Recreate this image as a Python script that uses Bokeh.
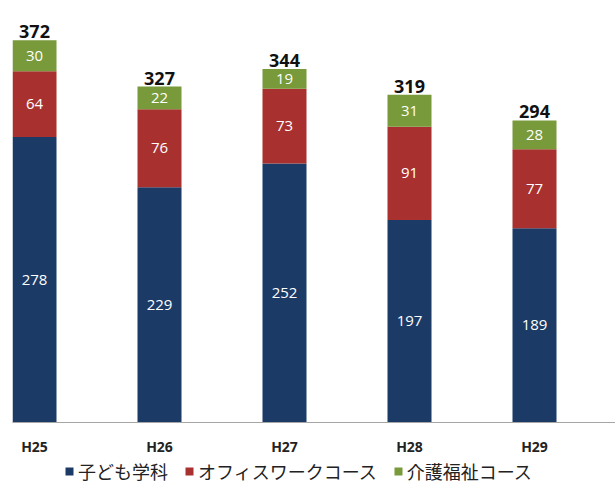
from bokeh.plotting import figure
from bokeh.layouts import column
from bokeh.models import ColumnDataSource, FixedTicker, Legend, LegendItem, Range1d
from bokeh.core.properties import value
from bokeh.embed import file_html
from bokeh.resources import INLINE

years = ["H25", "H26", "H27", "H28", "H29"]
kodomo = [278, 229, 252, 197, 189]
office = [64, 76, 73, 91, 77]
kaigo = [30, 22, 19, 31, 28]
series_names = ["子ども学科", "オフィスワークコース", "介護福祉コース"]
colors = ["#1B3A66", "#A8312F", "#789A3A"]

xs = list(range(len(years)))
totals = [a + b + c for a, b, c in zip(kodomo, office, kaigo)]

src = ColumnDataSource(dict(
    x=xs, kodomo=kodomo, office=office, kaigo=kaigo, total=totals,
    y1=[v / 2 for v in kodomo],
    y2=[a + b / 2 for a, b in zip(kodomo, office)],
    y3=[a + b + c / 2 for a, b, c in zip(kodomo, office, kaigo)],
    t1=[str(v) for v in kodomo], t2=[str(v) for v in office],
    t3=[str(v) for v in kaigo], tt=[str(v) for v in totals],
))

p = figure(frame_width=603, frame_height=414, output_backend="svg", toolbar_location=None,
           x_range=Range1d(-0.176, 4.648), y_range=Range1d(0, 403),
           min_border_left=12, min_border_right=0, min_border_top=8, min_border_bottom=34)
p.outline_line_color = None
p.xgrid.visible = False
p.ygrid.visible = False
p.yaxis.visible = False

rs = p.vbar_stack(["kodomo", "office", "kaigo"], x="x", width=0.352, color=colors,
                  line_color=None, source=src)

fnt = value("Open Sans")
for ycol, tcol in [("y1", "t1"), ("y2", "t2"), ("y3", "t3")]:
    p.text(x="x", y=ycol, text=tcol, source=src, text_color="white",
           text_font=fnt, text_font_size="15px", text_align="center",
           text_baseline="middle")
p.text(x="x", y="total", text="tt", source=src, text_color="#111111",
       text_font=fnt, text_font_size="18px", text_font_style="bold",
       text_align="center", text_baseline="bottom", y_offset=-2)

ax = p.xaxis[0]
ax.ticker = FixedTicker(ticks=xs)
ax.major_label_overrides = {i: y for i, y in zip(xs, years)}
ax.major_tick_line_color = None
ax.minor_tick_line_color = None
ax.axis_line_color = "#a6a6a6"
ax.major_label_text_font = "Open Sans"
ax.major_label_text_font_size = "14px"
ax.major_label_text_font_style = "bold"
ax.major_label_text_color = "#222222"
ax.major_label_standoff = 8

# legend strip below the chart (swatch renderers sit outside the visible range)
lg = figure(width=615, height=30, output_backend="svg", toolbar_location=None,
            x_range=Range1d(0, 1), y_range=Range1d(0, 1),
            min_border_left=0, min_border_right=0, min_border_top=0, min_border_bottom=0)
lg.outline_line_color = None
lg.axis.visible = False
lg.grid.visible = False
lrs = [lg.vbar(x=[5], top=[5], bottom=[4], width=0.1, fill_color=c, line_color=None)
       for c in colors]
legend = Legend(items=[LegendItem(label=n, renderers=[r]) for n, r in zip(series_names, lrs)],
                orientation="horizontal", location=(52, 4),
                glyph_width=10, glyph_height=10, label_standoff=4, spacing=16,
                label_text_font="Noto Sans CJK JP", label_text_font_size="18px",
                label_text_color="#222222", border_line_color=None,
                background_fill_alpha=0, padding=0, margin=0)
lg.add_layout(legend, "center")

layout = column(p, lg, spacing=0)
open("out.html", "w").write(file_html(layout, INLINE))
